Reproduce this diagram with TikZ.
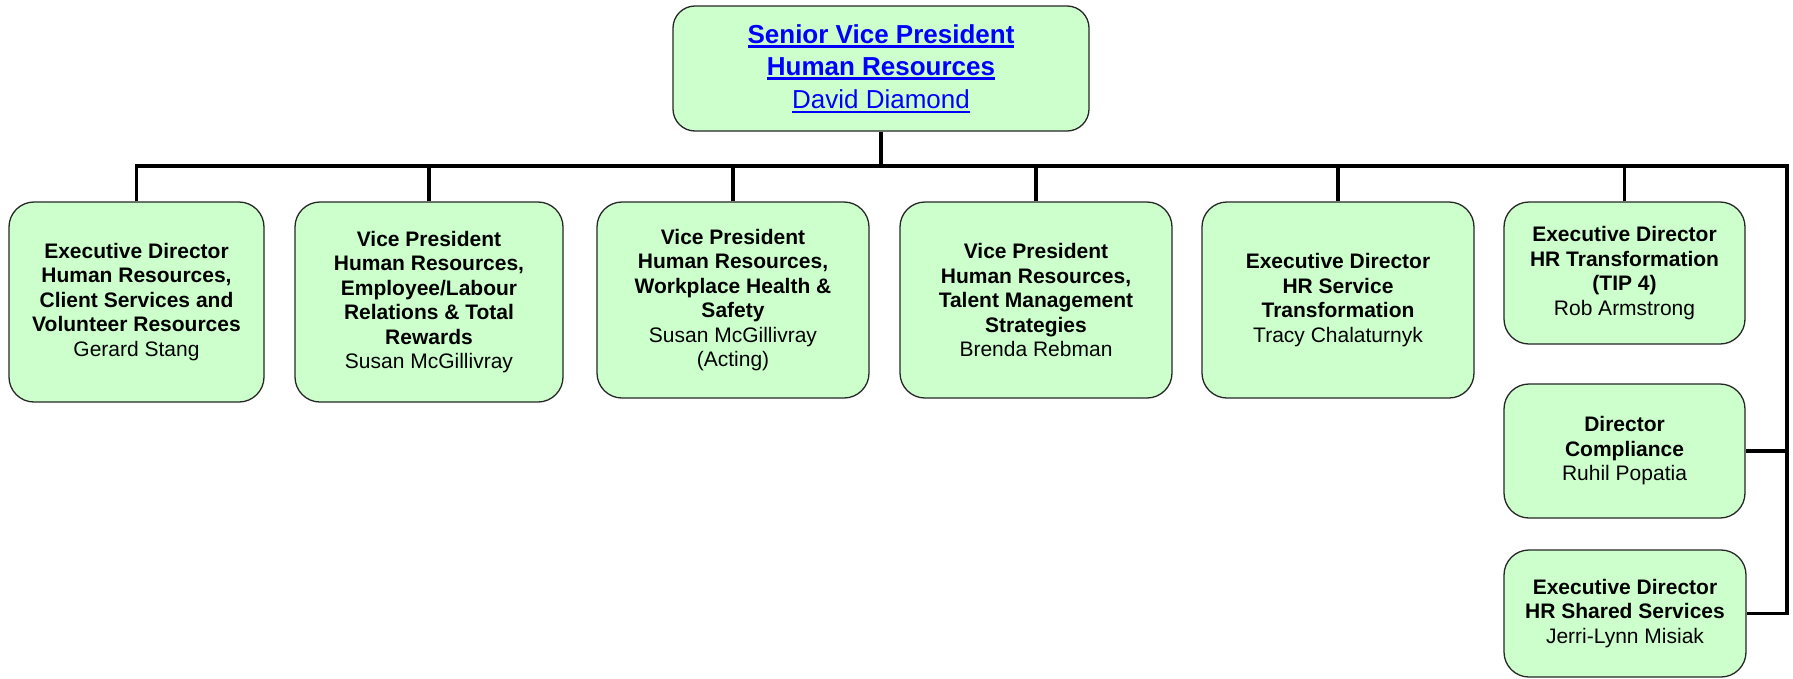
\documentclass[tikz,border=0pt]{standalone}
\usepackage{fontspec}
\setmainfont{Liberation Sans}
\newcommand{\myul}[2]{\setbox0=\hbox{#2}\leavevmode\rlap{\rule[-4.2pt]{\wd0}{#1}}\box0}
\tikzset{
  box/.style={draw=black!85, line width=1.3pt, fill=green!20!white, fill=boxgreen, rounded corners=25pt,
    align=center, inner sep=0pt, font=\fontsize{21}{24.5}\selectfont\bfseries},
  conn/.style={draw=black, line width=3.6pt},
}
\definecolor{boxgreen}{HTML}{CCFFCC}
\definecolor{linkblue}{HTML}{0000FF}
\begin{document}
\begin{tikzpicture}[x=1pt,y=-1pt]
\useasboundingbox (0,0) rectangle (1793,678);
\node[box, rounded corners=22pt, minimum width=416pt, minimum height=125pt, text=linkblue,
  font=\fontsize{26}{32.5}\selectfont] (top) at (881,68.5)
  {\bfseries\myul{2.6pt}{Senior Vice President}\\\bfseries\myul{2.6pt}{Human Resources}\\\mdseries\myul{1.8pt}{David Diamond}};
\node[box, minimum width=255pt, minimum height=200pt] (b1) at (136.5,302)
  {Executive Director\\Human Resources,\\Client Services and\\Volunteer Resources\\\mdseries Gerard Stang};
\node[box, minimum width=268pt, minimum height=200pt] (b2) at (429,302)
  {Vice President\\Human Resources,\\Employee/Labour\\Relations \& Total\\Rewards\\\mdseries Susan McGillivray};
\node[box, minimum width=272pt, minimum height=196pt] (b3) at (733,300)
  {Vice President\\Human Resources,\\Workplace Health \&\\Safety\\\mdseries Susan McGillivray\\\mdseries (Acting)};
\node[box, minimum width=272pt, minimum height=196pt] (b4) at (1036,300)
  {Vice President\\Human Resources,\\Talent Management\\Strategies\\\mdseries Brenda Rebman};
\node[box, minimum width=272pt, minimum height=196pt] (b5) at (1338,300)
  {Executive Director\\HR Service\\Transformation\\\mdseries Tracy Chalaturnyk};
\node[box, minimum width=241pt, minimum height=142pt] (b6) at (1624.5,273)
  {Executive Director\\HR Transformation\\(TIP 4)\\\mdseries Rob Armstrong};
\node[box, minimum width=241pt, minimum height=134pt] (b7) at (1624.5,451)
  {Director\\Compliance\\\mdseries Ruhil Popatia};
\node[box, minimum width=242pt, minimum height=127pt] (b8) at (1625,613.5)
  {Executive Director\\HR Shared Services\\\mdseries Jerri-Lynn Misiak};
\coordinate (bus) at (881,166);
\coordinate (rt) at (1787,166);
\draw[conn] (top.south) -- (bus);
\draw[conn] (b1.north) |- (rt) |- (b8.east);
\draw[conn] (b7.east) -- (b7.east -| rt);
\foreach \n in {b2,b3,b4,b5,b6}{
  \draw[conn] (\n.north) -- (\n.north |- bus);
}
\end{tikzpicture}
\end{document}
